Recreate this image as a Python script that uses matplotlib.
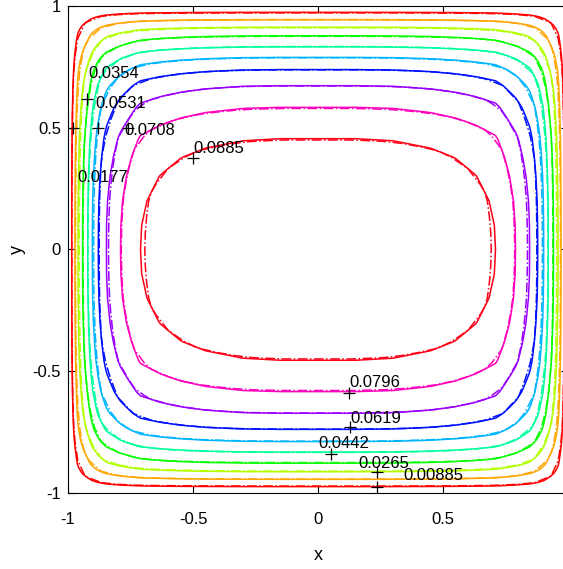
import numpy as np
import matplotlib
matplotlib.use("Agg")
import matplotlib.pyplot as plt

plt.rcParams['font.family'] = ['Liberation Sans', 'DejaVu Sans']
plt.rcParams['axes.unicode_minus'] = False

# contour levels and the value at the centre
levels = [0.00885, 0.0177, 0.0265, 0.0354, 0.0442, 0.0531, 0.0619, 0.0708, 0.0796, 0.0885]
peak = 0.0974

# where each level crosses y=0 (|x|) and x=0 (|y|)
x_cross = [0.985, 0.972, 0.960, 0.942, 0.921, 0.903, 0.879, 0.847, 0.790, 0.710]
y_cross = [0.974, 0.944, 0.913, 0.878, 0.832, 0.789, 0.739, 0.673, 0.584, 0.455]

# plateau inside the innermost level (estimated)
x_in = [0.0, 0.15, 0.30, 0.45, 0.55, 0.63]
u_x_in = [0.0974, 0.0974, 0.0970, 0.0956, 0.0938, 0.0916]
y_in = [0.0, 0.10, 0.20, 0.30, 0.38]
u_y_in = [0.0974, 0.0972, 0.0963, 0.0943, 0.0917]

# contour labels (text lower left) and '+' markers
lab_text = ['0.0354', '0.0531', '0.0708', '0.0885', '0.0177',
            '0.0796', '0.0619', '0.0442', '0.0265', '0.00885']
lab_x = [-0.918, -0.890, -0.773, -0.500, -0.962, 0.126, 0.130, 0.002, 0.163, 0.343]
lab_y = [0.704, 0.581, 0.470, 0.396, 0.277, -0.565, -0.713, -0.815, -0.897, -0.947]
mark_x = [-0.926, -0.982, -0.880, -0.760, -0.500, 0.122, 0.128, 0.050, 0.235, 0.235]
mark_y = [0.618, 0.499, 0.499, 0.499, 0.376, -0.589, -0.730, -0.841, -0.913, -0.974]

kx = x_in + x_cross[::-1] + [1.0]
vx = u_x_in + levels[::-1] + [0.0]
ky = y_in + y_cross[::-1] + [1.0]
vy = u_y_in + levels[::-1] + [0.0]


def field(n):
    g = np.linspace(-1, 1, n)
    fx = np.interp(np.abs(g), kx, vx) / peak
    fy = np.interp(np.abs(g), ky, vy) / peak
    return g, peak * fy[:, None] * fx[None, :]


fig = plt.figure(figsize=(5.63, 5.69), dpi=100)
ax = fig.add_axes([0.1208, 0.1336, 0.8881, 0.8559])

g, z = field(401)
ax.contour(g, g, z, levels=levels, cmap='hsv', vmin=levels[0], vmax=levels[-1],
           linewidths=1.1)
gc, zc = field(31)
ax.contour(gc, gc, zc, levels=levels, cmap='hsv', vmin=levels[0], vmax=levels[-1],
           linewidths=1.1, linestyles='-.')

ax.plot(mark_x, mark_y, '+', color='black', ms=9, mew=0.9)
for t, x, y in zip(lab_text, lab_x, lab_y):
    ax.text(x, y, t, fontsize=12, ha='left', va='baseline')

ax.set_xlim(-1, 1)
ax.set_ylim(-1, 1)
ticks = [-1, -0.5, 0, 0.5, 1]
ax.set_xticks(ticks)
ax.set_yticks(ticks)
ax.set_xticklabels(['-1', '-0.5', '0', '0.5', '1'])
ax.set_yticklabels(['-1', '-0.5', '0', '0.5', '1'])
ax.tick_params(direction='in', length=5, width=0.8, top=True, right=True, labelsize=12)
ax.tick_params(axis='x', pad=14)
ax.tick_params(axis='y', pad=5)
ax.set_xlabel('x', fontsize=13, labelpad=14)
ax.set_ylabel('y', fontsize=13, labelpad=5)
for s in ax.spines.values():
    s.set_linewidth(0.8)

fig.savefig('out.png', dpi=100)
